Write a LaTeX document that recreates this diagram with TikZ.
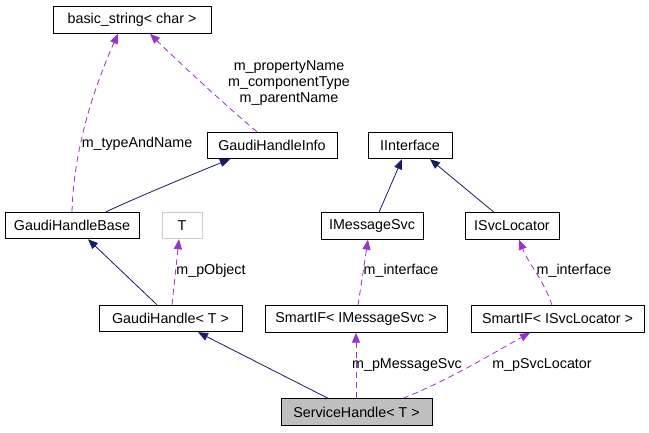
\documentclass[tikz,border=0pt]{standalone}
\usepackage{fontspec}
\setmainfont{Liberation Sans}
\usetikzlibrary{arrows.meta}
\definecolor{inhcol}{HTML}{191970}
\definecolor{usecol}{HTML}{9A32CD}
\definecolor{boxgray}{HTML}{BFBFBF}
\begin{document}
\begin{tikzpicture}[x=1pt,y=-1pt,
  every node/.style={font=\fontsize{14.3}{16}\selectfont, inner sep=0pt},
  cls/.style={draw=black, line width=0.9pt, rectangle, minimum height=26.5pt},
  inh/.style={draw=inhcol, line width=0.8pt, -{Triangle[length=10pt,width=8pt]}},
  use/.style={draw=usecol, line width=0.8pt, dash pattern=on 6pt off 4pt, -{Triangle[length=10pt,width=8pt]}},
  lbl/.style={text=black, align=center}]
\useasboundingbox (0,0) rectangle (649,432);
\fill[white] (0,0) rectangle (649,432);

\node[cls, minimum width=158pt] (bs) at (132,20) {basic\_string< char >};
\node[cls, minimum width=130pt] (ghi) at (272,145.5) {GaudiHandleInfo};
\node[cls, minimum width=84pt] (ii) at (410,145.5) {IInterface};
\node[cls, minimum width=134pt] (ghb) at (72,225.5) {GaudiHandleBase};
\node[cls, draw=boxgray!80!white, minimum width=40pt] (T) at (182,225.5) {T};
\node[cls, minimum width=102pt] (ims) at (372,226) {IMessageSvc};
\node[cls, minimum width=94pt] (isl) at (512,226) {ISvcLocator};
\node[cls, minimum width=143pt] (gh) at (170.5,318.5) {GaudiHandle< T >};
\node[cls, minimum width=182pt] (sims) at (356,319) {SmartIF< IMessageSvc >};
\node[cls, minimum width=173pt] (sisl) at (557.5,319) {SmartIF< ISvcLocator >};
\node[cls, fill=boxgray, minimum width=151pt] (sh) at (356.5,412) {ServiceHandle< T >};

% inheritance
\draw[inh] ([xshift=34pt]ghb.north) .. controls +(30,-14) and +(-35,14) .. ([xshift=-42pt]ghi.south);
\draw[inh] ([xshift=-13.5pt]gh.north) -- ([xshift=16pt]ghb.south);
\draw[inh] ([xshift=7pt]ims.north) -- ([xshift=-8pt]ii.south);
\draw[inh] ([xshift=-18pt]isl.north) -- ([xshift=20pt]ii.south);
\draw[inh] ([xshift=-28.5pt]sh.north) -- ([xshift=27.5pt]gh.south);

% usage
\draw[use] (ghb.north) .. controls +(2,-70) and +(-20,45) .. ([xshift=-14pt]bs.south);
\node[lbl] (l1) at (137,144) {m\_typeAndName};
\draw[use] ([xshift=-15pt]ghi.north) .. controls +(-30,-25) and +(25,25) .. ([xshift=18pt]bs.south);
\node[lbl] (l2) at (289,83) {m\_propertyName\\m\_componentType\\m\_parentName};
\draw[use] ([xshift=1.5pt]gh.north) -- ([xshift=-3pt]T.south);
\node[lbl] (l3) at (211,271) {m\_pObject};
\draw[use] ([xshift=2pt]sims.north) -- ([xshift=-4pt]ims.south);
\node[lbl] (l4) at (401,271) {m\_interface};
\draw[use] ([xshift=-5.5pt]sisl.north) .. controls +(-8,-25) and +(10,25) .. ([xshift=7pt]isl.south);
\node[lbl] (l5) at (574,271) {m\_interface};
\draw[use] (sh.north -| sims.south) -- (sims.south);
\node[lbl] (l6) at (407,365) {m\_pMessageSvc};
\draw[use] ([xshift=46.5pt]sh.north) .. controls +(45,-18) and +(-45,25) .. ([xshift=-27.5pt]sisl.south);
\node[lbl] (l7) at (542,365) {m\_pSvcLocator};
\end{tikzpicture}
\end{document}
